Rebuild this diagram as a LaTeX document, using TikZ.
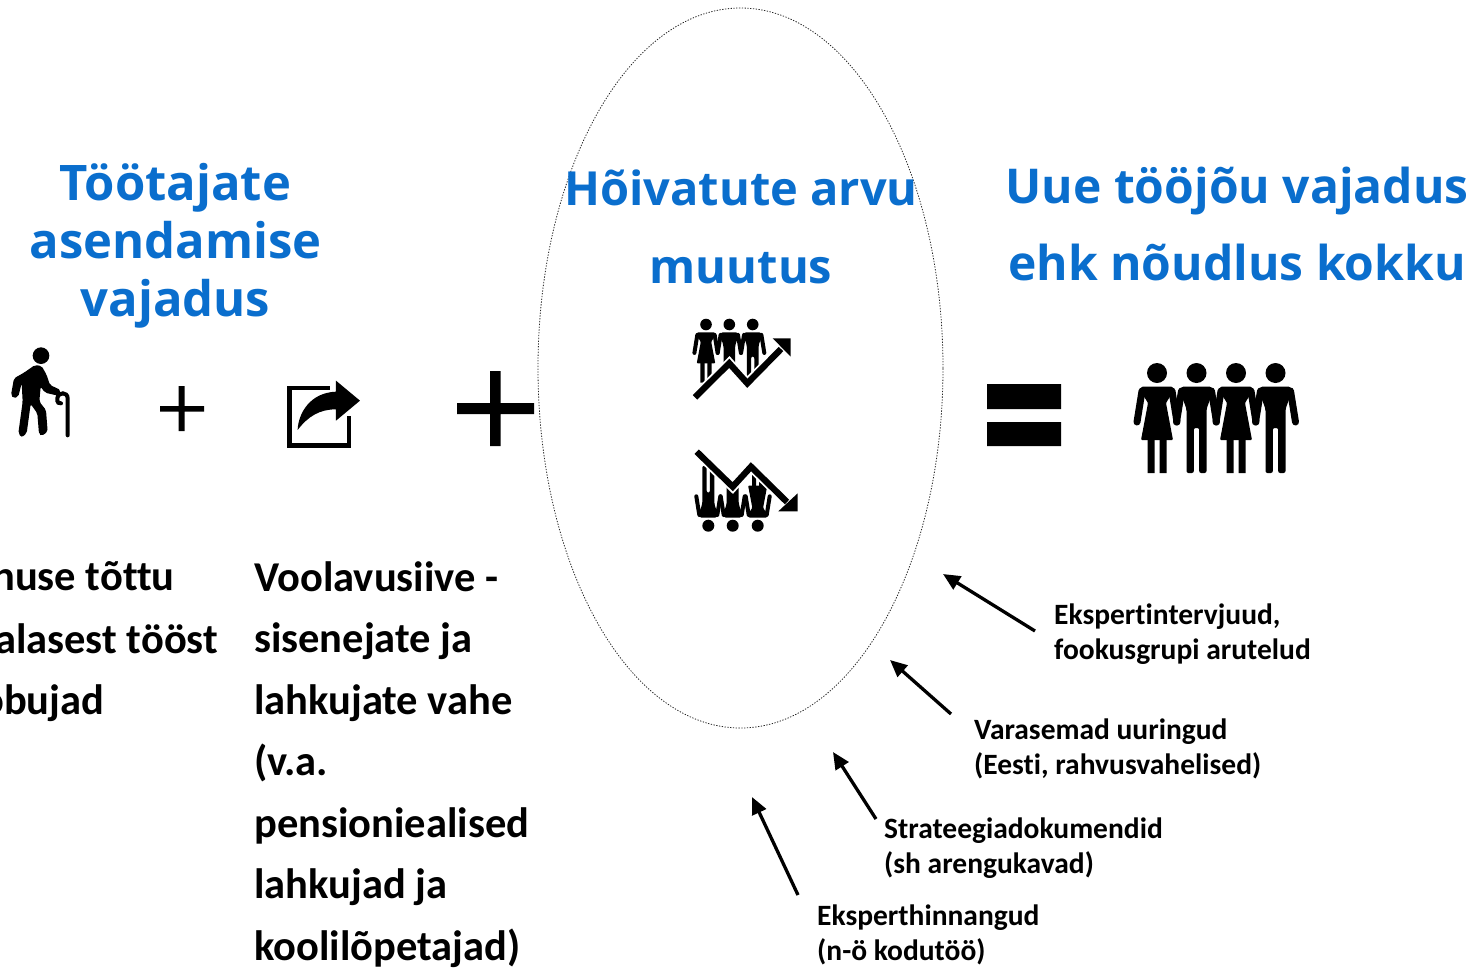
\documentclass[tikz,border=0pt]{standalone}
\usepackage{fontspec}
\setmainfont{Carlito}[Ligatures=NoCommon]
\newfontfamily\titlefont{Open Sans}
\usetikzlibrary{arrows.meta,shapes.geometric}
\definecolor{titleblue}{HTML}{0A6ECD}
\tikzset{
 x=1pt,y=-1pt,
 titletext/.style={inner sep=0,align=center,text=titleblue,font=\titlefont\bfseries\fontsize{49}{58}\selectfont},
 bodytext/.style={inner sep=0,align=left,anchor=north west,font=\bfseries\fontsize{42.5}{61.5}\selectfont},
 smalltext/.style={inner sep=0,align=left,anchor=north west,font=\bfseries\fontsize{29.5}{35}\selectfont},
 source/.style={line width=3.3pt,-{Triangle[length=17pt,width=15pt]}},
 limb/.style={line width=#1,line cap=round,line join=round},
 limb/.default=7pt
}
\newcommand{\manfig}[1][7pt]{%
 \fill (0,0) circle (10);
 \fill[rounded corners=2] (-15,13.5)--(15,13.5)--(17,17)--(10,36)--(10,100)--(2.7,100)--(2.7,55)--(-2.7,55)--(-2.7,100)--(-10,100)--(-10,36)--(-17,17)--cycle;
 \draw[limb=#1] (-15,18)--(-20,49) (15,18)--(20,49);
}
\newcommand{\womanfig}[1][7pt]{%
 \fill (0,0) circle (10);
 \fill[rounded corners=1] (-15,13.5)--(15,13.5)--(17,17)--(9,30)--(16,67)--(-16,67)--(-9,30)--(-17,17)--cycle;
 \fill (-9.5,66) rectangle (-2.5,100) (2.5,66) rectangle (9.5,100);
 \draw[limb=#1] (-15,18)--(-20,49) (15,18)--(20,49);
}
\begin{document}
\begin{tikzpicture}
\useasboundingbox (0,0) rectangle (1475,967);
% ellipse
\node[draw,black!85,dash pattern=on 1.3pt off 1.5pt,line width=.8pt,ellipse,minimum width=405pt,minimum height=720pt,inner sep=0] (scope) at (740.5,368) {};
% titles
\node[titletext] (t1) at (175.5,246) {Töötajate\\asendamise\\vajadus};
\node[titletext,font=\titlefont\bfseries\fontsize{47}{78}\selectfont] (t2) at (741,226.5) {Hõivatute arvu\\muutus};
\node[titletext,font=\titlefont\bfseries\fontsize{48}{77}\selectfont] (t3) at (1237,224) {Uue tööjõu vajadus\\ehk nõudlus kokku};
% body
\node[bodytext] (b1) at (-8,561) {nuse tõttu};
\node[bodytext] (b2) at (-5,623) {alasest tööst};
\node[bodytext] (b3) at (-19,684) {obujad};
\node[bodytext] (b4) at (254,561) {Voolavusiive -\\sisenejate ja\\lahkujate vahe\\(v.a.\\pensioniealised\\lahkujad ja\\koolilõpetajad)};
% sources
\node[smalltext] (s1) at (1054,603.5) {Ekspertintervjuud,\\fookusgrupi arutelud};
\node[smalltext] (s2) at (974,718.5) {Varasemad uuringud\\(Eesti, rahvusvahelised)};
\node[smalltext] (s3) at (884,817.5) {Strateegiadokumendid\\(sh arengukavad)};
\node[smalltext] (s4) at (817,904.5) {Eksperthinnangud\\(n-ö kodutöö)};
\coordinate (a1s) at (1035,631); \coordinate (a1e) at (943,574);
\coordinate (a2s) at (951,714); \coordinate (a2e) at (890,660);
\coordinate (a3s) at (876,819); \coordinate (a3e) at (833,752);
\coordinate (a4s) at (798,895); \coordinate (a4e) at (752,797);
\draw[source] (a1s)--(a1e);
\draw[source] (a2s)--(a2e);
\draw[source] (a3s)--(a3e);
\draw[source] (a4s)--(a4e);
% operators
\fill (160,406) rectangle (204,411.5) (178.5,386) rectangle (184.5,431);
\fill (457,403) rectangle (534,414) (490,371) rectangle (500.5,446);
\fill (987,384) rectangle (1061,409) (987,422) rectangle (1061,446);
% four people
\begin{scope}[shift={(1157,373)}]\womanfig\end{scope}
\begin{scope}[shift={(1196.5,373)}]\manfig\end{scope}
\begin{scope}[shift={(1236,373)}]\womanfig\end{scope}
\begin{scope}[shift={(1275.5,373)}]\manfig\end{scope}
% growth icon
\begin{scope}[shift={(706,324.5)},scale=.58]\womanfig[4pt]\end{scope}
\begin{scope}[shift={(729.3,324.5)},scale=.58]\manfig[4pt]\end{scope}
\begin{scope}[shift={(752.7,324.5)},scale=.58]\manfig[4pt]\end{scope}
\fill[white] (695,397)--(729.3,363)--(747.3,383)--(790,340)--(800,410)--(690,410)--cycle;
\draw[white,line width=10pt] (695,397.3)--(729.3,363.3)--(747.3,383.3)--(780,350);
\draw[line width=6.3pt,miter limit=4] (695,397.3)--(729.3,363.3)--(747.3,383.3)--(781,349);
\fill (772.7,338.3)--(790.7,338.3)--(790.7,356.7)--cycle;
% decline icon
\begin{scope}[shift={(708.3,525.7)},xscale=.6,yscale=-.6]\manfig[4pt]\end{scope}
\begin{scope}[shift={(732.7,525.7)},xscale=.6,yscale=-.6]\manfig[4pt]\end{scope}
\begin{scope}[shift={(757.7,525.7)},xscale=.6,yscale=-.6]\womanfig[4pt]\end{scope}
\fill[white] (696.7,451.7)--(732.7,486.7)--(751,466.7)--(795,510)--(800,440)--(690,440)--cycle;
\draw[white,line width=10pt] (696.7,451.7)--(732.7,486.7)--(751,466.7)--(785,500);
\draw[line width=6.3pt] (696.7,451.7)--(732.7,486.7)--(751,466.7)--(787,502);
\fill (778.3,511.3)--(797.7,511.3)--(797.7,493.3)--cycle;
% elderly person
\begin{scope}[shift={(0,330)},scale=.3333]
 \fill (123,77) circle (25);
 \fill[rounded corners=2] (72,128)--(105,105)--(125,108)--(140,135)--(150,165)--(182,180)--(178,198)--(135,188)--(122,170)--(118,215)--(138,240)--(143,305)--(125,318)--(117,312)--(112,250)--(92,222)--(80,310)--(65,322)--(55,310)--(68,215)--(65,160)--(55,200)--(40,205)--(33,195)--(42,145)--cycle;
 \draw[line width=4pt,line cap=round] (203,316)--(203,205) .. controls (203,185) and (175,185) .. (172,205) .. controls (170,218) and (178,222) .. (183,220);
\end{scope}
% export icon
\begin{scope}[shift={(0,330)},scale=.3333]
 \draw[line width=4.5pt,miter limit=4] (990,174)--(868,174)--(868,346)--(1047,346)--(1047,258);
 \fill (1008,152)--(1080,212)--(1008,272)--(1008,238) .. controls (960,238) and (925,258) .. (893,300) .. controls (895,250) and (930,188) .. (1008,185)--cycle;
\end{scope}
\end{tikzpicture}
\end{document}
